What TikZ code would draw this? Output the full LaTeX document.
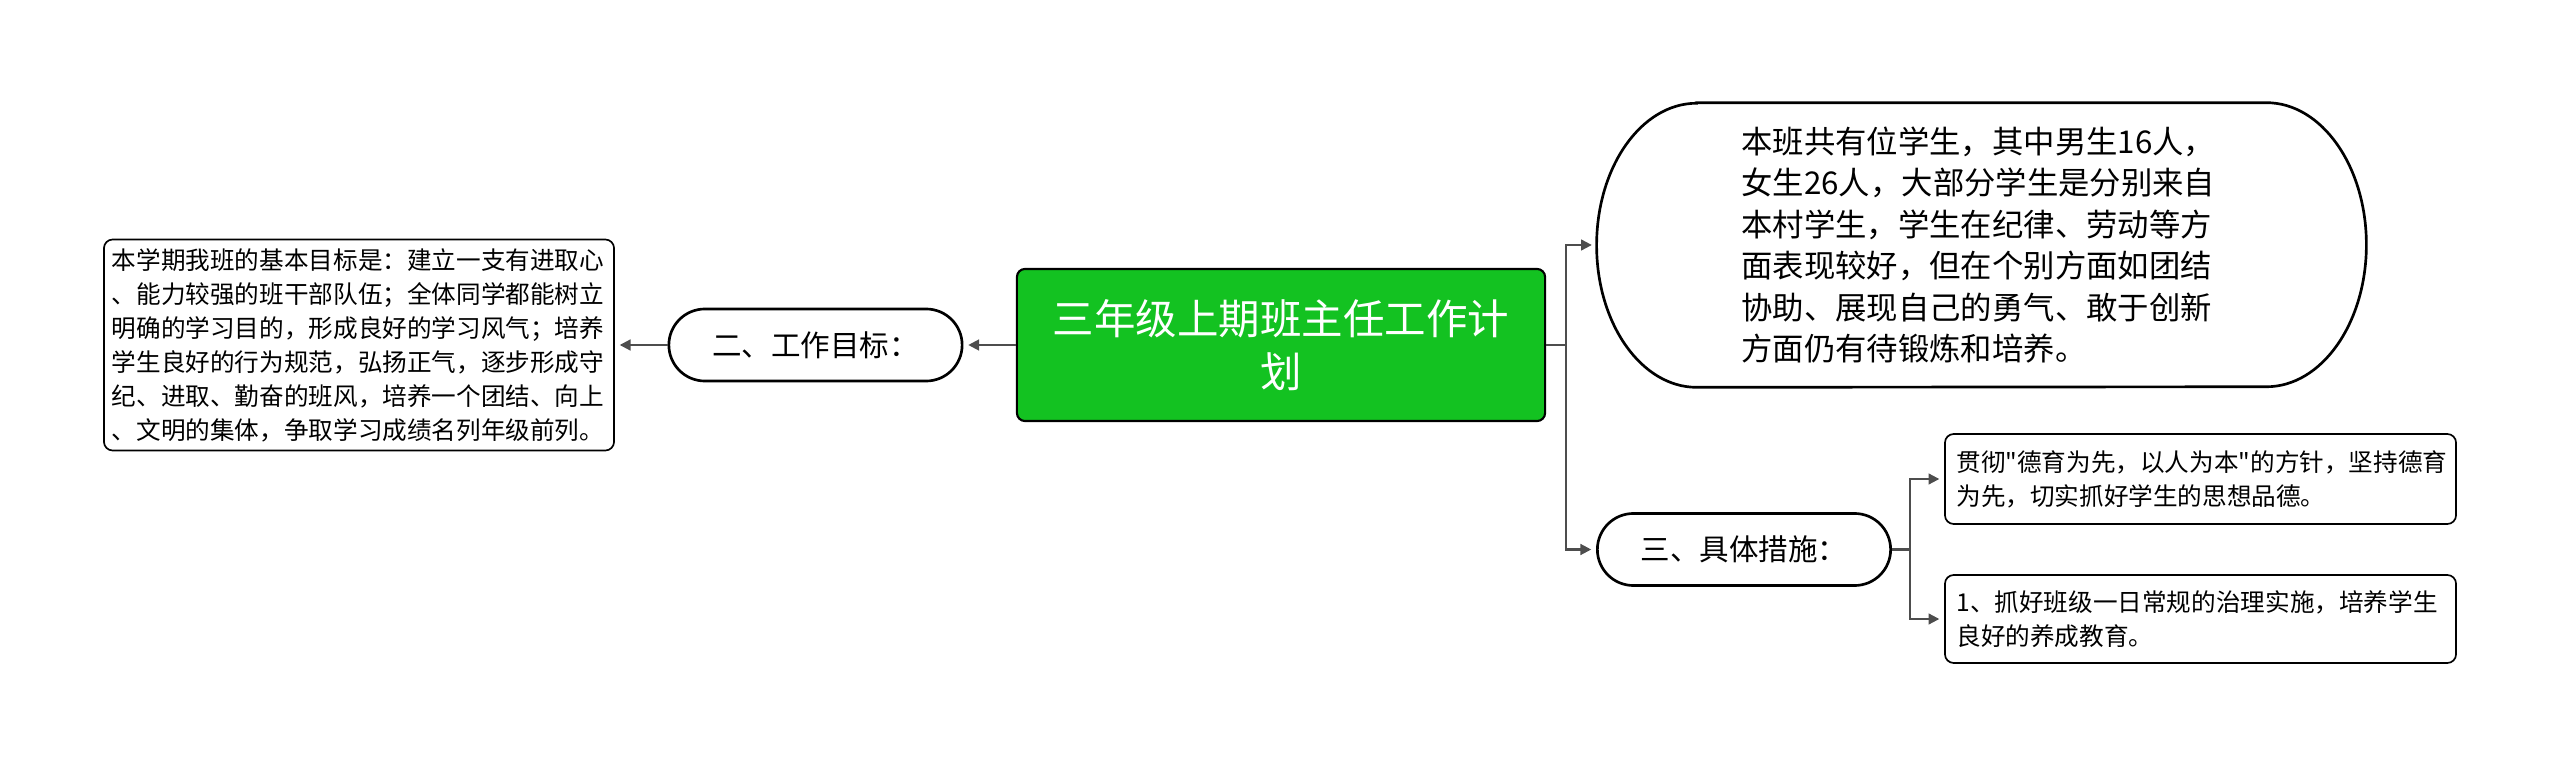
\documentclass[tikz,border=0pt]{standalone}
\usepackage{fontspec}
\setmainfont{Noto Sans CJK SC}
\usetikzlibrary{arrows.meta}
\definecolor{rootgreen}{HTML}{13C221}
\definecolor{linegray}{HTML}{4D4D4D}
\begin{document}
\begin{tikzpicture}[x=0.025cm, y=0.025cm,
  root/.style={draw=black, line width=1.5pt, rounded corners=0.2cm, fill=rootgreen,
               minimum width=13.2cm, minimum height=3.8cm, align=center, text=white,
               font=\fontsize{29.5}{38}\selectfont},
  topic/.style={draw=black, line width=1.9pt, rounded corners=0.9cm, fill=white,
                minimum width=7.33cm, minimum height=1.8cm, font=\fontsize{21}{26}\selectfont},
  leaf/.style={draw=black, line width=1.2pt, rounded corners=0.22cm, fill=white,
               minimum height=#1, align=left, font=\fontsize{17.5}{24.2}\selectfont},
  conn/.style={-{Triangle[length=0.27cm, width=0.27cm]}, line width=1.5pt, draw=linegray,
               shorten >=0.12cm}
]
  \useasboundingbox (0,0) rectangle (2560,-767);
  % 中心主题
  \node[root] (root) at (1281,-345) {三年级上期班主任工作计\\划};
  % 左侧：工作目标
  \node[topic] (goal) at (815.5,-345) {二、工作目标：};
  \node[leaf=5.275cm, minimum width=12.75cm, text width=12.35cm] (aim) at (359,-345)
        {本学期我班的基本目标是：建立一支有进取心\\
         、能力较强的班干部队伍；全体同学都能树立\\
         明确的学习目的，形成良好的学习风气；培养\\
         学生良好的行为规范，弘扬正气，逐步形成守\\
         纪、进取、勤奋的班风，培养一个团结、向上\\
         、文明的集体，争取学习成绩名列年级前列。};
  % 右侧：班级情况
  \node[minimum width=19.225cm, minimum height=7.1cm, text width=12cm, align=left,
        font=\fontsize{22.3}{29.5}\selectfont] (info) at (1981.5,-245)
        {本班共有位学生，其中男生16人，\\
         女生26人，大部分学生是分别来自\\
         本村学生，学生在纪律、劳动等方\\
         面表现较好，但在个别方面如团结\\
         协助、展现自己的勇气、敢于创新\\
         方面仍有待锻炼和培养。};
  \draw[line width=1.9pt] ([xshift=2.5cm]info.north west) -- ([xshift=-2.5cm]info.north east)
        arc[start angle=90, end angle=-90, x radius=2.5cm, y radius=3.55cm]
        -- ([xshift=2.5cm]info.south west)
        arc[start angle=270, end angle=90, x radius=2.5cm, y radius=3.55cm] -- cycle;
  % 右侧：具体措施
  \node[topic] (meas) at (1744,-549.5) {三、具体措施：};
  \node[leaf=2.25cm, minimum width=12.775cm, text width=12.2cm] (mA) at (2200.5,-479)
        {贯彻\textquotedbl 德育为先，以人为本\textquotedbl 的方针，坚持德育\\为先，切实抓好学生的思想品德。};
  \node[leaf=2.2cm, minimum width=12.775cm, text width=12.2cm] (mB) at (2200.5,-619)
        {1、抓好班级一日常规的治理实施，培养学生\\良好的养成教育。};
  % 连线
  \draw[conn] (root.west) -- (goal.east);
  \draw[conn] (goal.west) -- (aim.east);
  \draw[conn] (root.east) -- ([xshift=0.5cm]root.east) |- (info.west);
  \draw[conn] ([xshift=0.5cm]root.east) |- (meas.west);
  \draw[conn] (meas.east) -- ([xshift=0.45cm]meas.east) |- (mA.west);
  \draw[conn] ([xshift=0.45cm]meas.east) |- (mB.west);
\end{tikzpicture}
\end{document}
